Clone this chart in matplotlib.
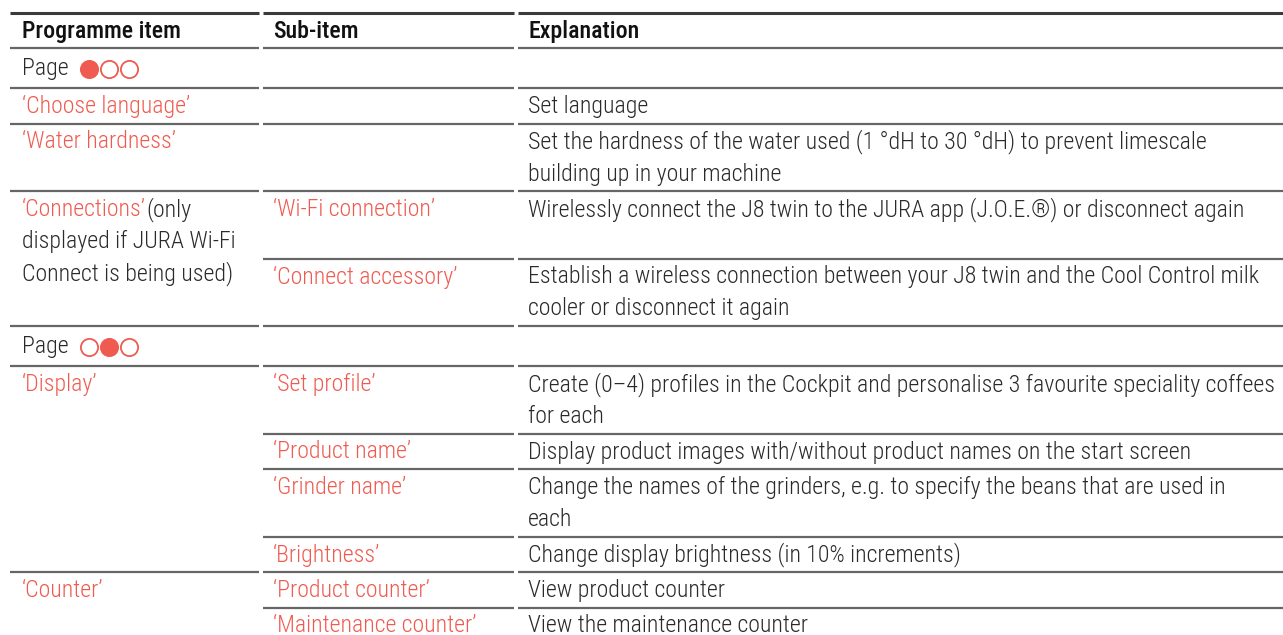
import matplotlib
matplotlib.use("Agg")
import matplotlib.pyplot as plt
from matplotlib import font_manager

# pick a condensed face if one is installed
FONT = "DejaVu Sans"
for name in ["Liberation Sans Narrow", "Roboto Condensed", "Open Sans Condensed", "Noto Sans"]:
    try:
        font_manager.findfont(name, fallback_to_default=False)
        FONT = name
        break
    except Exception:
        pass
plt.rcParams['font.family'] = [FONT, 'DejaVu Sans']

RED = "#ef5b50"
DARK = "#2a2a2a"
LINE = "#666666"

headers = ["Programme item", "Sub-item", "Explanation"]

# one entry per table row; None = cell spanned from the row above, "PAGE" = section row
programme_items = [
    "PAGE",
    "‘Choose language’",
    "‘Water hardness’",
    ("‘Connections’", "(only\ndisplayed if JURA Wi-Fi\nConnect is being used)"),
    None,
    "PAGE",
    "‘Display’",
    None,
    None,
    None,
    "‘Counter’",
    None,
]
sub_items = [
    "", "", "",
    "‘Wi-Fi connection’",
    "‘Connect accessory’",
    "",
    "‘Set profile’",
    "‘Product name’",
    "‘Grinder name’",
    "‘Brightness’",
    "‘Product counter’",
    "‘Maintenance counter’",
]
explanations = [
    "",
    "Set language",
    "Set the hardness of the water used (1 °dH to 30 °dH) to prevent limescale\nbuilding up in your machine",
    "Wirelessly connect the J8 twin to the JURA app (J.O.E.®) or disconnect again",
    "Establish a wireless connection between your J8 twin and the Cool Control milk\ncooler or disconnect it again",
    "",
    "Create (0–4) profiles in the Cockpit and personalise 3 favourite speciality coffees\nfor each",
    "Display product images with/without product names on the start screen",
    "Change the names of the grinders, e.g. to specify the beans that are used in\neach",
    "Change display brightness (in 10% increments)",
    "View product counter",
    "View the maintenance counter",
]
row_lines = [1, 1, 2, 2, 2, 1, 2, 1, 2, 1, 1, 1]
page_dots = [0, None, None, None, None, 1, None, None, None, None, None, None]  # which dot is filled

# layout (pixels)
W, H = 1283, 635
TOP = 13
LINE_H = 32
PAD = 3.5
HEADER_H = 35
SECTION_H = 40
col_left = [10, 263, 518]
col_right = [259, 514, W]
text_x = [22, 273, 528]
FS = 17.2
WEIGHT = 'light'

fig = plt.figure(figsize=(W / 100, H / 100), dpi=100)
ax = fig.add_axes([0, 0, 1, 1])
ax.set_xlim(0, W)
ax.set_ylim(H, 0)
ax.axis('off')
renderer = fig.canvas.get_renderer()


def put(x, y, s, color=DARK, weight=WEIGHT):
    return ax.text(x, y, s, fontsize=FS, color=color, weight=weight, va='center')


def text_right(t):
    bb = t.get_window_extent(renderer).transformed(ax.transData.inverted())
    return max(bb.x0, bb.x1)


def hline(y, cols, color=LINE, lw=1.6):
    for c in cols:
        ax.plot([col_left[c], col_right[c]], [y, y], color=color, lw=lw, solid_capstyle='butt')


# header
hline(TOP, [0, 1, 2], color="#3a3a3a", lw=2.2)
for i, h in enumerate(headers):
    put(text_x[i], TOP + HEADER_H / 2 + 1, h, color="#111111", weight='medium')
y = TOP + HEADER_H
hline(y, [0, 1, 2])

for r in range(len(row_lines)):
    top = y
    if programme_items[r] == "PAGE":
        h = SECTION_H
        cy = top + h / 2
        t = put(text_x[0], cy, "Page")
        x0 = text_right(t) + 20
        for k in range(3):
            filled = (k == page_dots[r])
            ax.plot(x0 + k * 20, cy + 1, marker='o', markersize=12.4, color=RED,
                    markerfacecolor=RED if filled else 'none', markeredgewidth=1.3)
    else:
        h = PAD + LINE_H * row_lines[r]
        first = top + 18.5
        p = programme_items[r]
        if isinstance(p, tuple):
            t = put(text_x[0], first, p[0], color=RED)
            lines = p[1].split("\n")
            put(text_right(t), first, lines[0])
            for k, ln in enumerate(lines[1:], start=1):
                put(text_x[0], first + k * LINE_H, ln)
        elif p:
            put(text_x[0], first, p, color=RED)
        if sub_items[r]:
            put(text_x[1], first, sub_items[r], color=RED)
        for k, ln in enumerate(explanations[r].split("\n")):
            if ln:
                put(text_x[2], first + k * LINE_H, ln)
    y = top + h
    if r + 1 < len(row_lines):
        cols = [1, 2] if programme_items[r + 1] is None else [0, 1, 2]
        hline(y, cols)

fig.savefig("out.png", dpi=100)
